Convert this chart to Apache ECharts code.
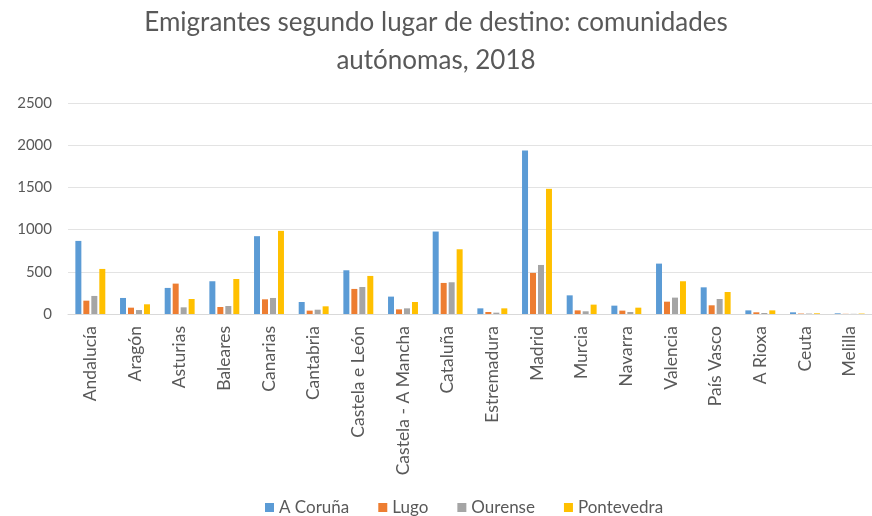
<!DOCTYPE html>
<html><head><meta charset="utf-8">
<script src="https://cdn.jsdelivr.net/npm/echarts@6/dist/echarts.min.js"></script>
<style>html,body{margin:0;padding:0;background:#fff}#c{width:872px;height:516px}</style>
</head><body><div id="c"></div>
<script>
const categories = ["Andalucía","Aragón","Asturias","Baleares","Canarias","Cantabria","Castela e León","Castela - A Mancha","Cataluña","Estremadura","Madrid","Murcia","Navarra","Valencia","País Vasco","A Rioxa","Ceuta","Melilla"];
const coruna     = [866,190,309,388,922,142,518,206,977,67,1938,221,99,597,316,43,20,8];
const lugo       = [158,75,360,83,174,40,297,55,368,24,487,43,40,146,103,20,5,2];
const ourense    = [214,47,79,95,190,51,320,67,376,16,581,32,24,194,178,12,5,2];
const pontevedra = [534,115,178,415,985,91,451,142,767,67,1483,111,75,388,261,43,8,5];
const seriesNames = ["A Coruña","Lugo","Ourense","Pontevedra"];
const yTicks = [0,500,1000,1500,2000,2500];

const colors = ["#5B9BD5","#ED7D31","#A5A5A5","#FFC000"];
const font = "Lato";
const chart = echarts.init(document.getElementById('c'));
const data = [coruna, lugo, ourense, pontevedra];
chart.setOption({
  animation:false,
  color: colors,
  textStyle:{fontFamily:font},
  title:{text:"Emigrantes segundo lugar de destino: comunidades\nautónomas, 2018", left:'center', top:-1,
    textStyle:{fontFamily:font, fontSize:26, fontWeight:'normal', color:'#595959', lineHeight:38}},
  legend:{left:260, bottom:-5, itemWidth:9, itemHeight:9, itemGap:29, icon:'rect',
    textStyle:{fontFamily:font, fontSize:17, color:'#595959'}, data:seriesNames},
  grid:{left:68, right:-12, top:103, bottom:202},
  xAxis:{type:'category', data:categories,
    axisLine:{lineStyle:{color:'#D9D9D9'}}, axisTick:{show:false},
    axisLabel:{rotate:90, interval:0, fontSize:17.5, color:'#595959', margin:12, fontFamily:font}},
  yAxis:{type:'value', min:yTicks[0], max:yTicks[yTicks.length-1], interval:500,
    axisLine:{show:false}, axisTick:{show:false},
    axisLabel:{fontSize:15, color:'#595959', margin:16, fontFamily:font, align:'right', formatter:v=>String(v)},
    splitLine:{lineStyle:{color:'#E3E3E3'}}},
  series: seriesNames.map((n,i)=>({name:n, type:'bar', data:data[i], barWidth:6, barGap:'33%', barCategoryGap:'30%'}))
});
</script></body></html>
